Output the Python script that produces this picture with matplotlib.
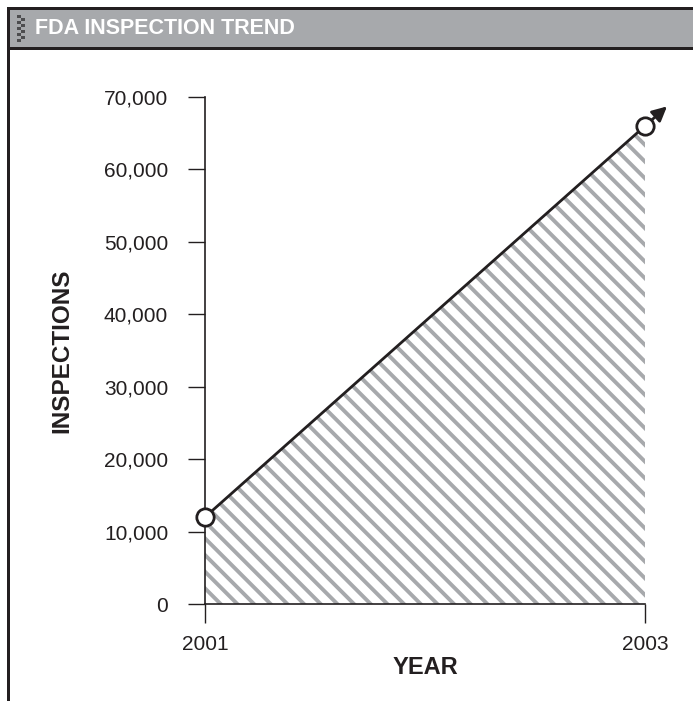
import matplotlib
matplotlib.use("Agg")
import matplotlib.pyplot as plt
from matplotlib.patches import Rectangle
import matplotlib.ticker as mticker

# data
years = [2001, 2003]
inspections = [12000, 66000]
y_ticks = [0, 10000, 20000, 30000, 40000, 50000, 60000, 70000]

title = "FDA INSPECTION TREND"
dark = "#231f20"
header_gray = "#a7a9ac"
hatch_gray = "#a7a9ac"

W, H = 693, 701
plt.rcParams['font.family'] = ['Liberation Sans', 'DejaVu Sans']
plt.rcParams['hatch.linewidth'] = 2.8
plt.rcParams['hatch.color'] = hatch_gray

fig = plt.figure(figsize=(W / 100, H / 100), dpi=100)


def box(x0, y0, x1, y1, color):
    # rectangle in pixel coords measured from top-left
    r = Rectangle((x0 / W, 1 - y1 / H), (x1 - x0) / W, (y1 - y0) / H,
                  transform=fig.transFigure, facecolor=color, edgecolor='none', zorder=0)
    fig.add_artist(r)


# frame + header bar
box(10, 10, W, 47, header_gray)
box(7, 7, W, 10, dark)
box(7, 7, 10, H, dark)
box(10, 47, W, 50, dark)
for row in range(9):
    for col in range(2):
        if (row + col) % 2 == 0:
            box(17 + col * 4, 15 + row * 3, 21 + col * 4, 18 + row * 3, "#4d4d4f")
fig.text(35 / W, 1 - 29 / H, title, color='white', fontsize=15.5,
         fontweight='bold', va='center', ha='left')

ax = fig.add_axes([205 / W, 97 / H, 440 / W, 507 / H])
ax.fill_between(years, inspections, 0, facecolor='white', edgecolor=hatch_gray,
                hatch='\\\\', linewidth=0, zorder=1)
ax.plot(years, inspections, color=dark, lw=2, zorder=3, clip_on=False)

# arrow continuing the trend past the last point
slope = (inspections[1] - inspections[0]) / (years[1] - years[0])
dx = 0.1
ax.annotate('', xy=(years[-1] + dx, inspections[-1] + slope * dx),
            xytext=(years[-1], inspections[-1]),
            arrowprops=dict(arrowstyle='-|>', color=dark, lw=2, mutation_scale=22,
                            shrinkA=0, shrinkB=0),
            annotation_clip=False, zorder=3)
ax.plot(years, inspections, 'o', ms=12.5, mfc='white', mec=dark, mew=2,
        zorder=4, clip_on=False)

ax.set_xlim(years[0], years[-1])
ax.set_ylim(0, 70000)
ax.set_xticks(years)
ax.set_yticks(y_ticks)
ax.yaxis.set_major_formatter(mticker.FuncFormatter(lambda v, p: f"{int(v):,}"))
for s in ['top', 'right']:
    ax.spines[s].set_visible(False)
for s in ['left', 'bottom']:
    ax.spines[s].set_color(dark)
    ax.spines[s].set_linewidth(1.2)
ax.tick_params(axis='y', length=12.5, width=1, color=dark, pad=14,
               labelsize=15, labelcolor=dark)
ax.tick_params(axis='x', length=14, width=1, color=dark, pad=8,
               labelsize=15, labelcolor=dark)
ax.set_xlabel('YEAR', fontsize=17, fontweight='bold', color=dark, labelpad=2)
ax.set_ylabel('INSPECTIONS', fontsize=17.5, fontweight='bold', color=dark, labelpad=22)
ax.patch.set_alpha(0)

fig.savefig('out.png', dpi=100)
